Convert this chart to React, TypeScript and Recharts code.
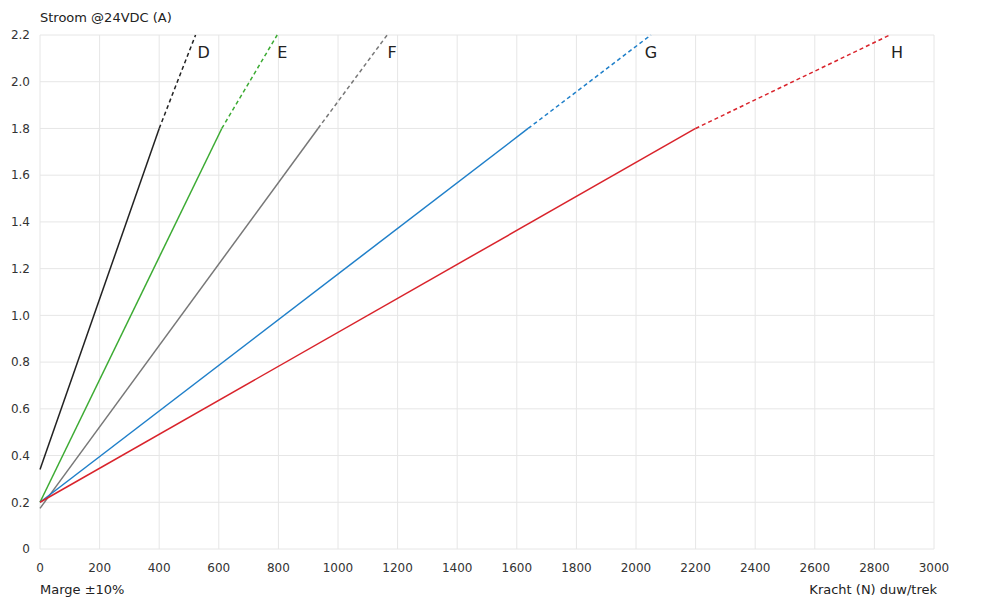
import { LineChart, Line, XAxis, YAxis, CartesianGrid } from "recharts";

// force (N) and current (A) at the start, end of solid part, and end of dashed part
const names = ["D", "E", "F", "G", "H"];
const startAmps = [0.34, 0.2, 0.174, 0.2, 0.2];
const solidEndForce = [400, 610, 933, 1638, 2200];
const solidEndAmps = [1.8, 1.8, 1.8, 1.8, 1.8];
const dashedEndForce = [522, 796, 1165, 2050, 2852];
const dashedEndAmps = [2.2, 2.2, 2.2, 2.2, 2.2];

const xTicks = [0, 200, 400, 600, 800, 1000, 1200, 1400, 1600, 1800, 2000, 2200, 2400, 2600, 2800, 3000];
const yTicks = [0, 0.2, 0.4, 0.6, 0.8, 1.0, 1.2, 1.4, 1.6, 1.8, 2.0, 2.2];

const colors = ["#222222", "#3cab33", "#777777", "#1f7fc9", "#d9232b"];
const labelDx = [8, 5, 5, 0, 7];

const font = "'DejaVu Sans', sans-serif";

const App = () => {
  return (
    <div style={{ position: "absolute", left: 0, top: 0, width: 999, height: 607, background: "#fff" }}>
      <LineChart width={999} height={607} margin={{ top: 35, right: 65, left: 0, bottom: 28 }}>
        <CartesianGrid stroke="#e6e6e6" strokeWidth={1} />
        <XAxis
          type="number"
          dataKey="x"
          domain={[0, 3000]}
          ticks={xTicks}
          axisLine={false}
          tickLine={false}
          height={30}
          tick={{ fill: "#333", fontSize: 12, fontFamily: font }}
          tickMargin={8}
        />
        <YAxis
          type="number"
          dataKey="y"
          domain={[0, 2.2]}
          ticks={yTicks}
          axisLine={false}
          tickLine={false}
          width={40}
          tickFormatter={(v: number) => (v === 0 ? "0" : v.toFixed(1))}
          tick={{ fill: "#333", fontSize: 12, fontFamily: font }}
          tickMargin={4}
        />
        {names.map((n, i) => (
          <Line
            key={n + "solid"}
            data={[
              { x: 0, y: startAmps[i] },
              { x: solidEndForce[i], y: solidEndAmps[i] },
            ]}
            dataKey="y"
            stroke={colors[i]}
            strokeWidth={1.5}
            dot={false}
            activeDot={false}
            isAnimationActive={false}
          />
        ))}
        {names.map((n, i) => (
          <Line
            key={n + "dash"}
            data={[
              { x: solidEndForce[i], y: solidEndAmps[i] },
              { x: dashedEndForce[i], y: dashedEndAmps[i] },
            ]}
            dataKey="y"
            stroke={colors[i]}
            strokeWidth={1.5}
            strokeDasharray="4 3"
            dot={false}
            activeDot={false}
            isAnimationActive={false}
            label={(p: any) =>
              p.index === 1 ? (
                <text
                  key={n + "lbl"}
                  x={p.x + labelDx[i]}
                  y={p.y + 23}
                  textAnchor="middle"
                  fill="#222"
                  fontSize={16}
                  fontFamily={font}
                >
                  {n}
                </text>
              ) : (
                <g key={n + "lbl" + p.index} />
              )
            }
          />
        ))}
      </LineChart>
      <div style={{ position: "absolute", left: 40, top: 10, fontSize: 13, fontFamily: font, color: "#222" }}>
        Stroom @24VDC (A)
      </div>
      <div style={{ position: "absolute", left: 40, top: 582, fontSize: 13, fontFamily: font, color: "#222" }}>
        Marge ±10%
      </div>
      <div style={{ position: "absolute", right: 62, top: 582, fontSize: 13, fontFamily: font, color: "#222" }}>
        Kracht (N) duw/trek
      </div>
    </div>
  );
};

export default App;
